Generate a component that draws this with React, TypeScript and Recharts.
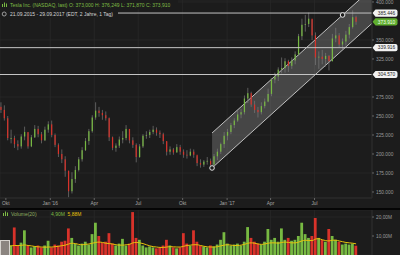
import {
  ComposedChart,
  Bar,
  Line,
  Area,
  XAxis,
  YAxis,
  CartesianGrid,
  ReferenceLine,
  ReferenceDot,
  Cell,
} from "recharts";

const BG = "#1c1c1c";
const GRID = "#282828";
const RED = "#d8322a";
const GREEN = "#77b942";
const FONT = "'Liberation Sans', Arial, sans-serif";

// weekly candles, week 0 = 21.09.2015
const highs = [
  268, 264, 250, 232, 224, 218, 226, 236, 228, 225, 238, 237, 229, 236, 243, 244,
  227, 214, 206, 197, 178, 176, 184, 196, 209, 221, 233, 251, 268, 262, 258, 256,
  248, 223, 214, 223, 230, 238, 232, 222, 214, 213, 226, 230, 232, 237, 235, 231,
  228, 216, 210, 208, 213, 212, 206, 205, 207, 206, 197, 193, 192, 196, 194, 200,
  207, 215, 229, 233, 241, 247, 257, 259, 277, 287, 282, 270, 262, 268, 273, 286,
  300, 307, 314, 327, 326, 324, 327, 335, 358, 378, 383, 386, 377, 360, 335, 337,
  333, 330, 358, 366, 359, 352, 362, 371, 389, 382,
];
const lows = [
  254, 244, 218, 214, 208, 205, 207, 218, 207, 209, 221, 222, 214, 217, 228, 222,
  209, 196, 188, 170, 143, 148, 162, 177, 190, 204, 212, 228, 245, 249, 245, 244,
  217, 205, 203, 208, 214, 218, 214, 208, 189, 195, 208, 220, 221, 226, 224, 221,
  213, 198, 199, 199, 202, 199, 195, 194, 197, 195, 184, 182, 183, 186, 181, 183,
  192, 200, 208, 218, 226, 234, 242, 247, 252, 267, 262, 254, 248, 252, 260, 268,
  276, 293, 296, 306, 307, 308, 312, 318, 329, 350, 361, 367, 350, 317, 312, 318,
  315, 310, 322, 347, 340, 336, 343, 352, 365, 370,
];
const closes = [
  258, 247, 221, 221, 213, 210, 223, 229, 210, 222, 233, 226, 218, 232, 239, 225,
  212, 200, 193, 178, 151, 167, 179, 193, 205, 217, 230, 248, 257, 254, 251, 247,
  222, 208, 211, 219, 221, 233, 218, 212, 196, 210, 224, 225, 229, 232, 228, 226,
  217, 203, 206, 202, 209, 203, 199, 198, 203, 199, 188, 186, 190, 191, 186, 197,
  203, 213, 224, 229, 238, 244, 252, 255, 273, 280, 265, 258, 255, 263, 269, 279,
  298, 302, 311, 313, 322, 316, 323, 331, 355, 370, 371, 378, 356, 327, 328, 325,
  329, 322, 352, 356, 344, 348, 357, 367, 380, 373.91,
];
const firstOpen = 262;

// volume in millions, and the 20 day average
const volumes = [
  4.5, 5, 7.5, 5, 14.5, 5, 6.5, 13, 5, 4, 4.5, 5, 4, 5, 7.5, 4,
  5.5, 5, 7, 7.5, 14, 9, 6, 5, 6, 7, 5.5, 11, 17, 10, 6.5, 7,
  11.5, 6, 5, 6, 8.5, 5, 6, 22.6, 9, 8, 5, 4, 4.5, 4, 3.5, 4,
  5, 8, 5, 4, 3.5, 4, 11.5, 6, 5, 13, 7, 5, 4.5, 4, 5, 4.5,
  5.5, 8, 12, 6, 5, 5.5, 6, 5, 7, 14.7, 9, 7, 6, 5.5, 7, 13.7,
  8, 9, 7, 14, 8, 9, 7.5, 8, 10, 17, 11, 9, 10, 19.5, 9, 8,
  7, 13.7, 10, 8, 7, 5.5, 6, 5.5, 6, 4.9,
];
const volumeMa = [
  4.2, 4.3, 4.6, 4.8, 5.0, 5.0, 5.1, 5.3, 5.0, 4.8, 4.5, 4.3, 4.2, 4.1, 4.2, 4.2,
  4.4, 4.6, 4.9, 5.2, 5.8, 6.2, 6.0, 5.6, 5.4, 5.6, 5.8, 6.2, 6.6, 6.8, 6.6, 6.2,
  6.0, 5.8, 5.4, 5.2, 5.2, 5.4, 5.6, 6.4, 6.6, 6.4, 6.0, 5.4, 4.8, 4.4, 4.2, 4.0,
  4.0, 4.2, 4.4, 4.3, 4.2, 4.2, 4.6, 5.0, 5.2, 5.4, 5.4, 5.0, 4.6, 4.3, 4.2, 4.2,
  4.4, 4.8, 5.2, 5.4, 5.2, 5.0, 5.0, 5.2, 5.6, 6.2, 6.4, 6.2, 5.8, 5.6, 5.8, 6.2,
  6.4, 6.4, 6.2, 6.6, 6.8, 6.6, 6.4, 6.4, 6.8, 7.4, 7.8, 7.6, 7.6, 8.4, 8.6, 8.0,
  7.6, 7.4, 7.8, 7.8, 7.4, 7.0, 6.6, 6.4, 6.2, 5.88,
];

const tickWeeks = [1.43, 14.57, 27.57, 40.57, 53.71, 66.86, 79.71, 92.71];
const tickLabels = ["Okt", "Jan '16", "Apr", "Jul", "Okt", "Jan '17", "Apr", "Jul"];
const priceTicks = [150, 175, 200, 225, 250, 275, 325, 350, 400];
const volumeTicks = [10, 20];
const levels = [385.446, 339.916, 304.57];
const lastClose = 373.91;

// trend channel drawn from the November low
const channelT = [62.4, 109.7];
const channelLow = [181.6, 371.9];
const channelHigh = [227.6, 417.9];
const anchorT = [62.4, 101];
const anchorP = [181.6, 382.9];

const X_DOMAIN = [-0.3, 109.7];

const rows = closes.map((c, i) => {
  const open = i === 0 ? firstOpen : closes[i - 1];
  return {
    t: i,
    range: [lows[i], highs[i]],
    high: highs[i],
    low: lows[i],
    open,
    close: c,
    up: c >= open,
    vol: volumes[i],
    ma: volumeMa[i],
  };
});

const channelRows = channelT.map((t, i) => ({ t, band: [channelLow[i], channelHigh[i]] }));

const axisTick = { fill: "#9a9a9a", fontSize: 4.8, fontFamily: FONT };

function Candle(props: any) {
  const { x, y, width, height, payload } = props;
  if (x == null || y == null) return null;
  const top = Math.min(y, y + height);
  const h = Math.abs(height);
  const span = payload.high - payload.low || 1;
  const toY = (v: number) => top + ((payload.high - v) / span) * h;
  const bTop = toY(Math.max(payload.open, payload.close));
  const bBot = toY(Math.min(payload.open, payload.close));
  const cx = x + width / 2;
  return (
    <g>
      <line x1={cx} x2={cx} y1={top} y2={top + h} stroke="#7a7a7a" strokeWidth={0.7} />
      <rect
        x={x}
        y={bTop}
        width={width}
        height={Math.max(bBot - bTop, 0.8)}
        fill={payload.up ? GREEN : RED}
      />
    </g>
  );
}

function Tag({ viewBox, text, fill, color }: any) {
  if (!viewBox) return null;
  const x0 = viewBox.x + viewBox.width + 0.5;
  const y0 = viewBox.y;
  const d = `M${x0},${y0} L${x0 + 3},${y0 - 3.6} H${x0 + 23} Q${x0 + 25},${y0 - 3.6} ${x0 + 25},${y0 - 1.6} V${y0 + 1.6} Q${x0 + 25},${y0 + 3.6} ${x0 + 23},${y0 + 3.6} H${x0 + 3} Z`;
  return (
    <g>
      <path d={d} fill={fill} />
      <text
        x={x0 + 14}
        y={y0 + 1.7}
        textAnchor="middle"
        fontSize={4.8}
        fontFamily={FONT}
        fill={color}
      >
        {text}
      </text>
    </g>
  );
}

export default function App() {
  return (
    <div
      style={{
        position: "absolute",
        left: 0,
        top: 0,
        width: 400,
        height: 255,
        background: BG,
        overflow: "hidden",
      }}
    >
      {/* price panel */}
      <ComposedChart
        width={400}
        height={209}
        data={rows}
        margin={{ top: 0, right: 0, bottom: 0, left: 0 }}
      >
        <CartesianGrid stroke={GRID} strokeWidth={0.8} />
        <XAxis
          type="number"
          dataKey="t"
          domain={X_DOMAIN}
          allowDataOverflow
          ticks={tickWeeks}
          tickFormatter={(v: number) => tickLabels[tickWeeks.indexOf(v)] ?? ""}
          height={11}
          tick={{ ...axisTick, fill: "#a8a8a8" }}
          tickSize={2}
          tickLine={{ stroke: "#666" }}
          axisLine={{ stroke: "#2c2c2c" }}
        />
        <YAxis
          orientation="right"
          width={28}
          domain={[142.1, 402.6]}
          allowDataOverflow
          ticks={priceTicks}
          tickFormatter={(v: number) => v.toFixed(3)}
          tick={axisTick}
          tickSize={2}
          tickMargin={2}
          tickLine={{ stroke: "#666" }}
          axisLine={{ stroke: "#2c2c2c" }}
        />
        <Area
          data={channelRows}
          dataKey="band"
          type="linear"
          fill="#a0a0a0"
          fillOpacity={0.32}
          stroke="#d0d0d0"
          strokeWidth={0.9}
          isAnimationActive={false}
          dot={false}
          activeDot={false}
        />
        <Bar dataKey="range" barSize={2} shape={(p: any) => <Candle {...p} />} isAnimationActive={false} />
        {levels.map((lv) => (
          <ReferenceLine
            key={lv}
            y={lv}
            stroke="#c4c4c4"
            strokeWidth={1}
            label={(p: any) => <Tag viewBox={p.viewBox} text={lv.toFixed(3)} fill="#f2f2f2" color="#222" />}
          />
        ))}
        <ReferenceLine
          y={lastClose}
          stroke="transparent"
          label={(p: any) => <Tag viewBox={p.viewBox} text={lastClose.toFixed(3)} fill="#5fae2e" color="#f4fff0" />}
        />
        {anchorT.map((t, i) => (
          <ReferenceDot
            key={t}
            x={t}
            y={anchorP[i]}
            r={2.3}
            fill={BG}
            stroke="#e6e6e6"
            strokeWidth={1}
          />
        ))}
      </ComposedChart>

      <div style={{ position: "absolute", left: 0, top: 208, width: 400, height: 2, background: "#050505" }} />

      {/* volume panel */}
      <div style={{ position: "absolute", left: 0, top: 210 }}>
        <ComposedChart
          width={400}
          height={45}
          data={rows}
          margin={{ top: 0, right: 0, bottom: 0, left: 0 }}
        >
          <CartesianGrid stroke={GRID} strokeWidth={0.8} />
          <XAxis type="number" dataKey="t" domain={X_DOMAIN} allowDataOverflow ticks={tickWeeks} hide />
          <YAxis
            orientation="right"
            width={28}
            domain={[0, 23.7]}
            allowDataOverflow
            ticks={volumeTicks}
            tickFormatter={(v: number) => `${v},00M`}
            tick={axisTick}
            tickSize={2}
            tickMargin={2}
            tickLine={{ stroke: "#666" }}
            axisLine={{ stroke: "#2c2c2c" }}
          />
          <Bar dataKey="vol" barSize={2.8} isAnimationActive={false}>
            {rows.map((r, i) => (
              <Cell key={i} fill={r.up ? GREEN : RED} />
            ))}
          </Bar>
          <Line
            dataKey="ma"
            type="monotone"
            stroke="#e8c20a"
            strokeWidth={1}
            dot={false}
            isAnimationActive={false}
          />
        </ComposedChart>
      </div>

      {/* header texts */}
      <svg
        width={400}
        height={255}
        style={{ position: "absolute", left: 0, top: 0, pointerEvents: "none" }}
        fontFamily={FONT}
      >
        <rect x={0} y={0} width={178} height={9} fill={BG} />
        <g fill={GREEN}>
          <rect x={2} y={4} width={1} height={3} />
          <rect x={4} y={2.5} width={1} height={4.5} />
          <rect x={6} y={3.5} width={1} height={3.5} />
        </g>
        <text x={10} y={7} fontSize={5} fill="#7fbd45">
          Tesla Inc. (NASDAQ, last) O: 373,000 H: 376,249 L: 371,870 C: 373,910
        </text>
        <rect x={0} y={10} width={118} height={8} fill={BG} />
        <circle cx={4.2} cy={14} r={2} fill="none" stroke="#cfcfcf" strokeWidth={0.7} />
        <text x={10} y={15.8} fontSize={5} fill="#d4d4d4">
          21.09.2015 - 29.09.2017  (EDT, 2 Jahre, 1 Tag)
        </text>

        <g fill="#7fbd45">
          <rect x={3} y={213} width={1} height={3} />
          <rect x={5} y={211.5} width={1} height={4.5} />
          <rect x={7} y={212.5} width={1} height={3.5} />
        </g>
        <text x={11} y={216} fontSize={5} fill="#8fae62">
          Volume(20)
        </text>
        <text x={51} y={216} fontSize={5} fill="#7fbd45">
          4,90M
        </text>
        <text x={67.5} y={216} fontSize={5} fill="#e8c20a">
          5,88M
        </text>
        <rect x={0} y={240} width={10} height={15} fill="#d8d4cf" />
        <rect x={1} y={241} width={8} height={14} fill="#8c8580" />
      </svg>
    </div>
  );
}
